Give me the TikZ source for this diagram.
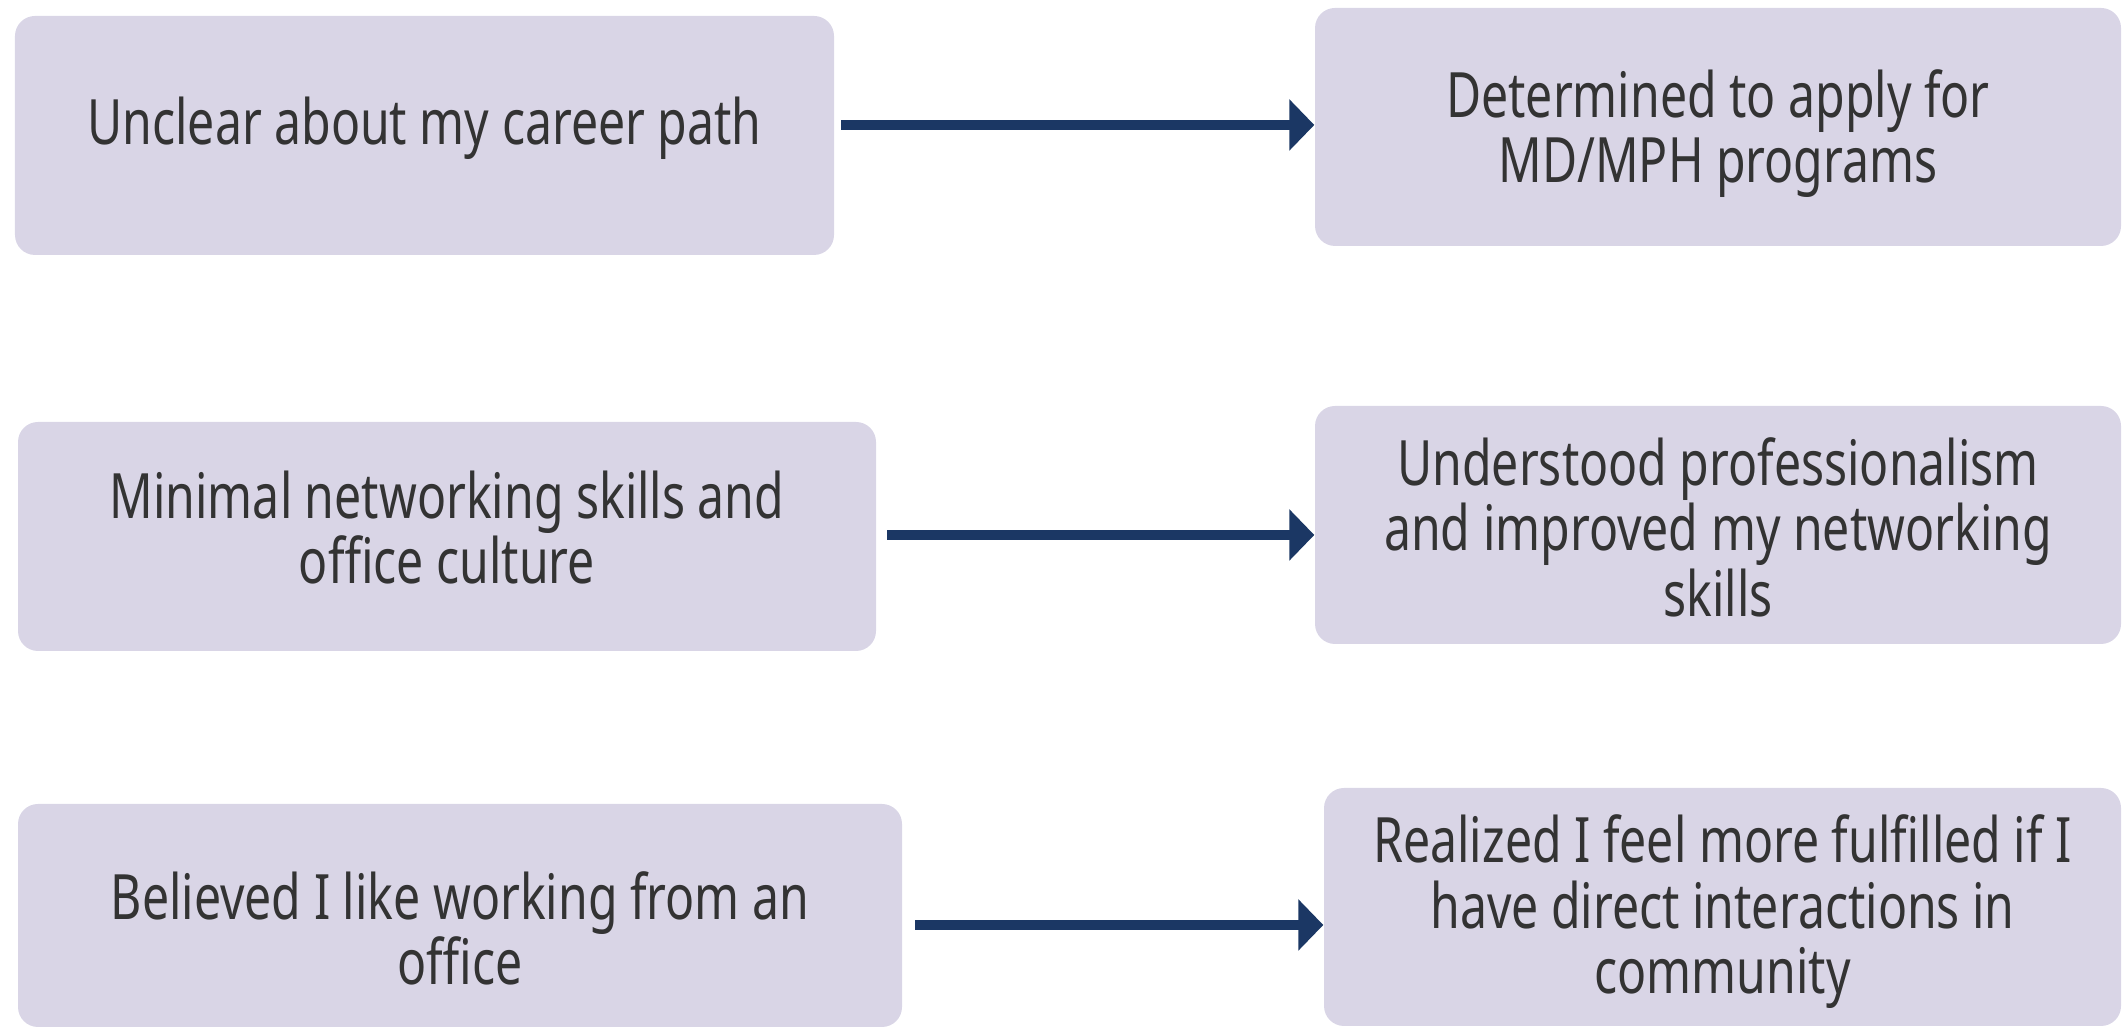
\documentclass[tikz,border=0pt]{standalone}
\usepackage{fontspec}
\setmainfont{Noto Sans}[FakeStretch=0.77]
\usetikzlibrary{arrows.meta}
\definecolor{boxfill}{HTML}{D9D5E6}
\definecolor{navy}{HTML}{1B3764}
\definecolor{ink}{HTML}{333333}

\begin{document}
\begin{tikzpicture}[
    card/.style = {fill=boxfill, rounded corners=0.2cm, text=ink, align=center,
                   inner sep=0pt, font=\fontsize{17.8}{18.7}\selectfont},
    flow/.style = {navy, line width=0.1cm, -{Triangle[length=0.25cm, width=0.5cm]}}]
          \useasboundingbox (0,0) rectangle (21.23,10.29);
          % before
          \node[card, minimum width=8.19cm, minimum height=2.39cm,
                text height=0.19cm, text depth=0cm] (before1) at (4.245,8.935)
                {Unclear about my career path};
          \node[card, minimum width=8.58cm, minimum height=2.29cm,
                text height=0.95cm, text depth=0cm] (before2) at (4.47,4.925)
                {Minimal networking skills and\\ office culture};
          \node[card, minimum width=8.84cm, minimum height=2.23cm,
                text height=1.39cm, text depth=0cm] (before3) at (4.60,1.135)
                {Believed I like working from an\\ office};
          % after
          \node[card, minimum width=8.06cm, minimum height=2.38cm,
                text height=1.12cm, text depth=0cm] (after1) at (17.18,9.02)
                {Determined to apply for\\ MD/MPH programs};
          \node[card, minimum width=8.06cm, minimum height=2.38cm,
                text height=1.83cm, text depth=0cm] (after2) at (17.18,5.04)
                {Understood professionalism\\ and improved my networking\\ skills};
          \node[card, minimum width=7.97cm, minimum height=2.38cm,
                text height=1.74cm, text depth=0cm] (after3) at (17.225,1.22)
                {Realized I feel more fulfilled if I\\ have direct interactions in\\ community};
          \coordinate (t1) at (8.41,9.04);
          \coordinate (t2) at (8.87,4.94);
          \coordinate (t3) at (9.15,1.04);
          \draw[flow] (t1) -- (t1 -| after1.west);
          \draw[flow] (t2) -- (t2 -| after2.west);
          \draw[flow] (t3) -- (t3 -| after3.west);
        \end{tikzpicture}
\end{document}
